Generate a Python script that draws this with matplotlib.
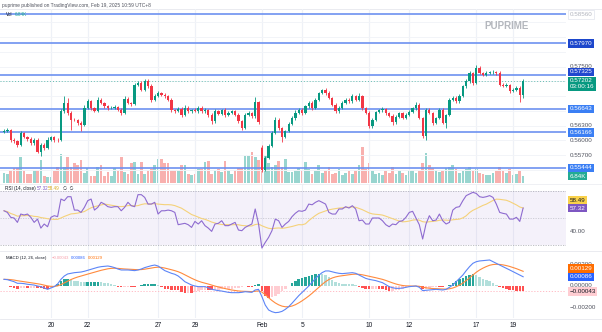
import numpy as np
import pandas as pd
import matplotlib
matplotlib.use("Agg")
import matplotlib.pyplot as plt
import matplotlib.transforms as mtrans
from matplotlib.patches import Polygon

plt.rcParams['font.family'] = ['Liberation Sans', 'DejaVu Sans']

# ---------------- data (NZD/USD 4H) ----------------
close = [
    0.56198, 0.56218, 0.56015, 0.55980, 0.55913, 0.56151, 0.56070, 0.56029, 0.55947, 0.56015,
    0.55776, 0.55913, 0.55845, 0.56015, 0.56070, 0.56015, 0.56004, 0.56591, 0.56768, 0.56565,
    0.56422, 0.56420, 0.56361, 0.56320, 0.56666, 0.56795, 0.56666, 0.56605, 0.56829, 0.56762,
    0.56693, 0.56660, 0.56666, 0.56687, 0.56626, 0.56558, 0.56850, 0.56768, 0.56748, 0.57135,
    0.57169, 0.57033, 0.57202, 0.57114, 0.56829, 0.56911, 0.56972, 0.56931, 0.56896, 0.56829,
    0.56626, 0.56591, 0.56640, 0.56524, 0.56666, 0.56591, 0.56626, 0.56591, 0.56666, 0.56591,
    0.56626, 0.56524, 0.56387, 0.56591, 0.56544, 0.56626, 0.56524, 0.56565, 0.56591, 0.56524,
    0.56387, 0.56259, 0.56524, 0.56565, 0.56489, 0.56774, 0.56367, 0.55403, 0.55648, 0.55892,
    0.56157, 0.56422, 0.56259, 0.56076, 0.56184, 0.56340, 0.56463, 0.56565, 0.56626, 0.56558,
    0.56693, 0.56768, 0.56666, 0.56829, 0.56972, 0.57033, 0.56972, 0.56870, 0.56727, 0.56591,
    0.56660, 0.56768, 0.56829, 0.56795, 0.56896, 0.56829, 0.56911, 0.56660, 0.56558, 0.56285,
    0.56422, 0.56585, 0.56611, 0.56636, 0.56565, 0.56503, 0.56367, 0.56483, 0.56558, 0.56457,
    0.56524, 0.56585, 0.56660, 0.56727, 0.56463, 0.56082, 0.56626, 0.56558, 0.56355, 0.56457,
    0.56626, 0.56355, 0.56524, 0.56829, 0.56864, 0.56795, 0.56896, 0.57100, 0.57202, 0.57373,
    0.57176, 0.57475, 0.57373, 0.57339, 0.57373, 0.57385, 0.57400, 0.57373, 0.57135, 0.57114,
    0.57135, 0.56998, 0.57033, 0.57068, 0.56931, 0.57202,
]
first_open = 0.56180
gap_opens = {77: 0.55852}

upper_wick_pips = [
    3, 4, 2, 3, 2, 5, 3, 2, 4, 3,
    3, 4, 3, 5, 3, 2, 3, 4, 14, 10,
    3, 3, 2, 3, 5, 4, 3, 2, 5, 3,
    2, 3, 3, 4, 2, 3, 5, 3, 2, 4,
    3, 3, 4, 5, 3, 4, 3, 2, 3, 2,
    3, 2, 4, 3, 5, 3, 2, 3, 4, 3,
    3, 2, 3, 4, 3, 2, 3, 4, 3, 2,
    3, 3, 4, 3, 2, 10, 3, 6, 3, 3,
    4, 6, 3, 2, 3, 4, 3, 5, 3, 4,
    3, 3, 4, 3, 2, 2, 3, 3, 2, 3,
    4, 3, 4, 3, 5, 3, 5, 2, 3, 4,
    3, 2, 3, 4, 3, 2, 3, 4, 3, 2,
    3, 4, 3, 5, 3, 2, 3, 4, 3, 3,
    4, 3, 2, 3, 4, 3, 5, 3, 4, 3,
    2, 5, 3, 2, 4, 3, 3, 2, 3, 4,
    3, 2, 3, 3, 3, 4,
]
lower_wick_pips = [
    3, 2, 4, 3, 5, 3, 2, 3, 4, 3,
    4, 10, 3, 2, 3, 4, 3, 2, 3, 4,
    20, 3, 4, 12, 2, 3, 4, 3, 2, 3,
    3, 4, 2, 3, 3, 5, 3, 2, 4, 3,
    2, 3, 3, 4, 5, 3, 2, 3, 4, 3,
    4, 3, 2, 5, 3, 4, 3, 2, 3, 4,
    3, 4, 5, 3, 2, 3, 4, 3, 2, 3,
    4, 4, 3, 2, 3, 3, 4, 4, 3, 2,
    3, 2, 4, 10, 3, 2, 3, 4, 3, 4,
    2, 3, 4, 3, 2, 3, 4, 3, 3, 4,
    3, 2, 3, 4, 3, 3, 2, 4, 3, 3,
    4, 3, 2, 3, 4, 3, 5, 3, 2, 3,
    3, 2, 3, 4, 3, 3, 7, 3, 4, 3,
    2, 3, 10, 3, 2, 4, 3, 2, 3, 3,
    4, 3, 2, 3, 3, 2, 3, 4, 3, 2,
    3, 4, 2, 3, 14, 7,
]
volume_k = [
    10, 9, 13, 15, 15, 26, 13, 9, 9, 13,
    13, 23, 7, 6, 6, 12, 16, 29, 16, 26,
    16, 20, 18, 23, 10, 15, 7, 7, 16, 18,
    7, 11, 7, 15, 13, 26, 11, 9, 20, 21,
    9, 21, 9, 13, 14, 18, 24, 24, 20, 20,
    13, 13, 13, 18, 18, 9, 8, 9, 14, 14,
    21, 22, 9, 13, 14, 11, 22, 13, 9, 13,
    15, 15, 27, 27, 31, 26, 23, 36, 28, 20,
    16, 18, 22, 16, 24, 11, 11, 13, 15, 13,
    21, 14, 9, 12, 18, 10, 12, 16, 9, 10,
    14, 8, 10, 12, 9, 13, 18, 36, 14, 20,
    12, 9, 10, 8, 12, 10, 16, 9, 12, 10,
    8, 12, 13, 10, 12, 20, 30, 18, 15, 13,
    11, 12, 15, 16, 18, 14, 10, 12, 14, 16,
    12, 14, 10, 9, 8, 8, 10, 12, 16, 12,
    10, 14, 8, 9, 12, 6.84,
]
rsi = [
    55.3, 54.1, 50.5, 50.0, 46.8, 52.9, 52.2, 52.9, 50.5, 46.8,
    49.2, 42.6, 45.6, 43.6, 50.5, 51.7, 51.0, 63.9, 62.7, 65.6,
    65.6, 55.8, 55.8, 54.1, 57.8, 62.7, 63.9, 55.8, 57.8, 61.5,
    60.2, 58.3, 57.8, 58.3, 58.3, 55.3, 57.8, 61.5, 59.0, 58.3,
    67.1, 67.1, 65.1, 60.2, 60.2, 61.5, 52.9, 55.3, 55.3, 55.8,
    55.3, 54.1, 45.1, 45.6, 46.1, 45.1, 43.1, 47.5, 45.6, 48.0,
    44.4, 42.6, 40.2, 45.6, 46.1, 48.0, 44.4, 44.4, 45.6, 46.8,
    41.2, 40.7, 43.1, 44.4, 45.6, 56.6, 45.6, 28.0, 32.1, 35.8,
    40.7, 49.2, 48.0, 43.1, 45.6, 47.5, 51.0, 53.5, 55.3, 54.9,
    55.8, 60.2, 59.7, 61.5, 62.7, 61.5, 60.2, 54.1, 52.9, 52.9,
    56.6, 56.6, 58.3, 57.3, 59.0, 56.6, 48.0, 48.5, 45.6, 45.6,
    50.0, 50.0, 50.0, 48.0, 45.1, 43.6, 45.6, 45.1, 47.5, 48.0,
    50.5, 54.1, 54.9, 50.0, 45.1, 34.6, 45.6, 51.7, 48.0, 48.5,
    52.9, 48.0, 45.6, 46.8, 55.8, 57.8, 58.3, 62.7, 66.4, 67.6,
    68.8, 68.0, 65.6, 65.1, 65.6, 66.4, 65.1, 60.2, 54.1, 53.4,
    52.9, 49.2, 49.2, 50.5, 47.5, 57.32,
]
macd_e5 = [
    62, 59, 50, 40, 25, 25, 22, 16, 12, 9,
    0, -6, -19, -31, -19, -6, 19, 62, 93, 112,
    118, 124, 127, 130, 137, 146, 155, 164, 174, 180,
    183, 186, 180, 171, 158, 149, 149, 149, 146, 143,
    149, 158, 171, 180, 189, 195, 186, 164, 143, 130,
    118, 109, 93, 68, 40, 25, 9, 0, -6, -6,
    -6, -16, -31, -37, -43, -47, -53, -59, -62, -62,
    -62, -59, -53, -56, -59, -37, -31, -99, -177, -223,
    -239, -248, -245, -236, -217, -192, -160, -125, -90, -60,
    -30, 0, 35, 70, 100, 125, 140, 140, 132, 124,
    118, 115, 118, 121, 124, 118, 102, 87, 71, 62,
    56, 50, 40, 31, 12, -6, -16, -22, -22, -19,
    -12, -6, -3, 0, -12, -43, -40, -37, -34, -31,
    -34, -37, -31, -12, 9, 40, 71, 102, 143, 180,
    211, 226, 233, 236, 239, 242, 226, 211, 195, 180,
    164, 149, 133, 118, 102, 86,
]
day_labels = ["20", "22", "27", "29", "Feb", "5", "10", "12", "17", "19"]
day_bars = [14, 25, 46, 57, 77, 89, 109, 121, 141, 152]
levels = [0.58560, 0.57970, 0.57325, 0.56643, 0.56166, 0.55444]
price_ticks = [0.57500, 0.56300, 0.56000, 0.55700]
macd_ticks = [0.002, 0.0, -0.002]
rsi_ticks = [40.0]
countdown = "03:00:16"
vol_last_label = "6.84K"
rsi_last, rsi_ma_last = 57.32, 58.49
macd_last, signal_last, hist_last = 0.00086, 0.00129, -0.00043
header = "puprime published on TradingView.com, Feb 19, 2025 10:59 UTC+8"

# ---------------- derived series ----------------
n = min(len(close), len(upper_wick_pips), len(lower_wick_pips), len(volume_k), len(rsi), len(macd_e5))
close = np.array(close[:n])
opens = np.r_[first_open, close[:-1]]
for k, v in gap_opens.items():
    opens[k] = v
high = np.maximum(opens, close) + np.array(upper_wick_pips[:n]) * 1e-4
low = np.minimum(opens, close) - np.array(lower_wick_pips[:n]) * 1e-4
vol = np.array(volume_k[:n], dtype=float)
rsi_a = np.array(rsi[:n])
rsi_ma = pd.Series(rsi_a).rolling(14, min_periods=1).mean().values
macd = np.array(macd_e5[:n]) * 1e-5
signal = pd.Series(macd).ewm(span=9, adjust=False).mean().values
hist = macd - signal
idx = np.arange(n)
up = close >= opens

# ---------------- layout ----------------
W, H = 602, 332
fig = plt.figure(figsize=(W / 100, H / 100), dpi=100)
fig.patch.set_facecolor('white')


def rect(x0, y0, x1, y1):
    return [x0 / W, 1 - y1 / H, (x1 - x0) / W, (y1 - y0) / H]


PR = 566
XL, XR = -1.2, 167.8
axv = fig.add_axes(rect(0, 9, PR, 183))
ax = fig.add_axes(rect(0, 9, PR, 183))
ax_rsi = fig.add_axes(rect(0, 185, PR, 250))
ax_macd = fig.add_axes(rect(0, 251, PR, 318))
axv.set_zorder(1)
ax.set_zorder(2)
ax.patch.set_alpha(0)
for a in (axv, ax, ax_rsi, ax_macd):
    a.set_xlim(XL, XR)
    for s in a.spines.values():
        s.set_visible(False)
    a.set_xticks([])
    a.set_yticks([])
    for b in day_bars:
        a.axvline(b, color='#eef1f7', lw=0.8, zorder=0)

ax.set_ylim(0.55137, 0.58670)
axv.set_ylim(0, 174)
ax_rsi.set_ylim(26.56, 74.18)
ax_macd.set_ylim(-0.002977, 0.003256)

# grid in price pane
for g in np.arange(0.554, 0.5871, 0.003):
    ax.axhline(g, color='#f2f4f8', lw=0.7, zorder=0)

UP, DN = '#089981', '#f23645'
# volume
axv.bar(idx, vol, width=0.8, color=np.where(up, '#98d5cf', '#f8b0ae'), zorder=1)
# horizontal levels
for lv in levels:
    ax.axhline(lv, color='#6a8ff0', lw=1.3, alpha=0.9, zorder=3)
ax.axhline(close[-1], color=UP, lw=0.7, ls=(0, (1, 2)), alpha=0.6, zorder=3)
# candles
ccol = np.where(up, UP, DN)
ax.vlines(idx, low, high, colors=ccol, lw=0.6, zorder=4)
body = np.abs(close - opens)
body = np.maximum(body, 0.00003)
ax.bar(idx, body, bottom=np.minimum(opens, close), width=0.68, color=ccol, zorder=5)

# RSI pane
ax_rsi.fill_between([XL, XR], 30, 70, color='#7e57c2', alpha=0.08, lw=0, zorder=0)
for lvl, al in ((70, 0.7), (50, 0.45), (30, 0.7)):
    ax_rsi.axhline(lvl, color='#9598a1', lw=0.6, ls=(0, (1.5, 1.5)), alpha=al, zorder=1)
ax_rsi.plot(idx, rsi_ma, color='#f5d27a', lw=0.8, zorder=2)
ax_rsi.plot(idx, rsi_a, color='#8e6bd0', lw=0.8, zorder=3)

# MACD pane
prev = np.r_[hist[0], hist[:-1]]
hcol = np.where(hist >= 0, np.where(hist > prev, '#26a69a', '#b2dfdb'),
                np.where(hist > prev, '#ffcdd2', '#ff5252'))
ax_macd.bar(idx, hist, width=0.75, color=hcol, zorder=1)
ax_macd.axhline(hist_last, color='#ffb3bd', lw=0.6, ls=(0, (1.5, 2)), zorder=0)
ax_macd.plot(idx, signal, color='#ff8a3d', lw=0.8, zorder=2)
ax_macd.plot(idx, macd, color='#5c85f7', lw=0.8, zorder=3)

# ---------------- right-scale labels ----------------
TAG_X = 567.5 / PR
FS = 4.5


def scale_text(a, y, text, color='#50535e'):
    tr = mtrans.blended_transform_factory(a.transAxes, a.transData)
    a.text(569.5 / PR, y, text, transform=tr, ha='left', va='center', fontsize=FS,
           color=color, clip_on=False, zorder=15)


def tag(a, y, text, fc, tc, dy_px=0.0, ec='none', lsp=1.0):
    tr = mtrans.blended_transform_factory(a.transAxes, a.transData)
    a.annotate(text, xy=(TAG_X, y), xycoords=tr, xytext=(1.3, -dy_px * 0.72),
               textcoords='offset points', ha='left', va='center', fontsize=FS,
               color=tc, linespacing=lsp, annotation_clip=False, zorder=20,
               bbox=dict(boxstyle='square,pad=0.28', fc=fc, ec=ec, lw=0.5))


for v in price_ticks:
    scale_text(ax, v, f"{v:.5f}")
tag(ax, levels[0], f"{levels[0]:.5f}", 'white', '#b2b5be', ec='#e0e3eb')
tag(ax, levels[1], f"{levels[1]:.5f}", '#1d47cc', 'white')
tag(ax, levels[2], f"{levels[2]:.5f}", '#2148cf', 'white', dy_px=-3.4)
tag(ax, close[-1], f"{close[-1]:.5f}\n{countdown}", UP, 'white', dy_px=2.3, lsp=1.15)
for lv in levels[3:]:
    tag(ax, lv, f"{lv:.5f}", '#3b7ff4', 'white')
tag(axv, vol[-1], vol_last_label, '#22ab94', 'white')

for v in rsi_ticks:
    scale_text(ax_rsi, v, f"{v:.2f}")
tag(ax_rsi, rsi_ma_last, f"{rsi_ma_last:.2f}", '#f9d14a', '#131722', dy_px=-6.0)
tag(ax_rsi, rsi_last, f"{rsi_last:.2f}", '#7e57c2', 'white')


def fmt5(v):
    s = f"{abs(v):.5f}"
    return ('\u2212' + s) if v < 0 else s


for v in macd_ticks:
    scale_text(ax_macd, v, fmt5(v))
tag(ax_macd, signal_last, fmt5(signal_last), '#ff6d00', 'white', dy_px=-3.8)
tag(ax_macd, macd_last, fmt5(macd_last), '#2962ff', 'white')
tag(ax_macd, hist_last, fmt5(hist_last), '#ffcdd2', '#131722', dy_px=1.0)

# time axis labels
trx = mtrans.blended_transform_factory(ax_macd.transData, ax_macd.transAxes)
for b, lab in zip(day_bars, day_labels):
    ax_macd.text(b, -0.105, lab, transform=trx, ha='center', va='center',
                 fontsize=4.8, color='#131722', clip_on=False)

# ---------------- texts, legends, watermark ----------------
def ftext(x, y, s, color, fs=3.3, **kw):
    fig.text(x / W, 1 - y / H, s, color=color, fontsize=fs, ha='left', va='center', **kw)


ftext(2.5, 5.3, header, '#50535e', fs=3.5)
ftext(6, 15, "Vol", '#131722')
ftext(14.5, 15, vol_last_label, '#22ab94')
ftext(5, 188.5, "RSI (14, close)", '#131722')
ftext(36.5, 188.5, f"{rsi_last:.2f}", '#7e57c2')
ftext(47.5, 188.5, f"{rsi_ma_last:.2f}", '#d9ad1f')
ftext(63, 188.5, "\u2205  \u2205", '#131722')
ftext(6, 258, "MACD (12, 26, close)", '#131722', fs=3.1)
ftext(51.5, 258, fmt5(hist_last), '#f7a1ab', fs=3.1)
ftext(70.5, 258, fmt5(macd_last), '#2962ff', fs=3.1)
ftext(87.5, 258, fmt5(signal_last), '#ff6d00', fs=3.1)

# watermark
logo = [(467.5, 15.5), (482.5, 15.5), (480.5, 24.0), (473.5, 24.0), (469.5, 35.0), (463.5, 35.0)]
fig.add_artist(Polygon([(x / W, 1 - y / H) for x, y in logo], closed=True,
                       transform=fig.transFigure, fc='#b3c8ee', ec='none', alpha=0.9))
ftext(484.5, 25.8, "PUPRIME", '#b4b7bd', fs=7.0, fontweight='bold')

# separators
for yy, c in ((8.5, '#e6e8ee'), (184.3, '#eceef2'), (250.5, '#e6e8ee'), (318.5, '#e6e8ee')):
    fig.add_artist(plt.Line2D([0, 1], [1 - yy / H, 1 - yy / H], transform=fig.transFigure,
                              color=c, lw=0.6))

fig.savefig('out.png', dpi=100, facecolor='white')
